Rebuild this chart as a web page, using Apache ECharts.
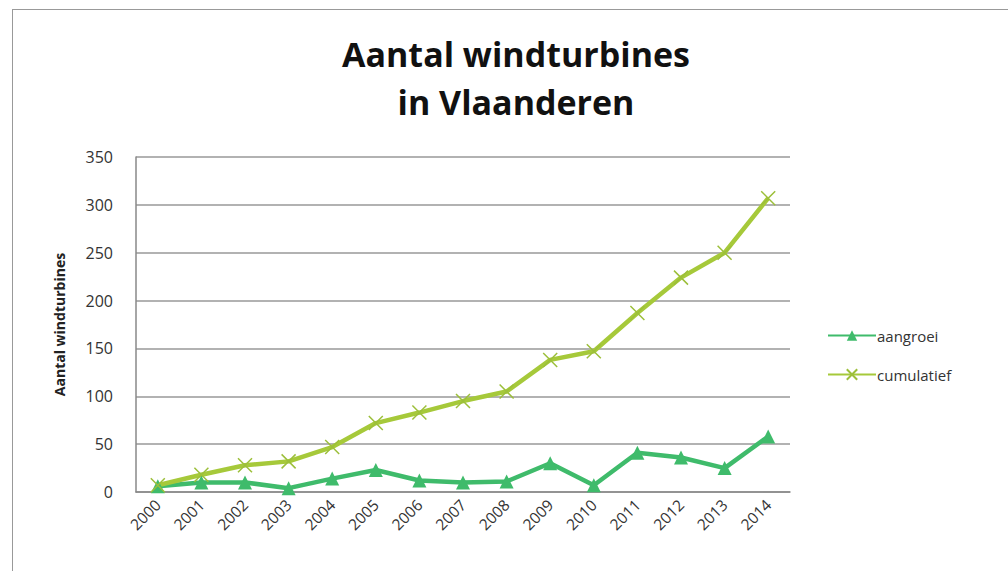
<!DOCTYPE html>
<html>
<head>
<meta charset="utf-8">
<script src="https://cdn.jsdelivr.net/npm/echarts@6/dist/echarts.min.js"></script>
<style>
  html, body { margin: 0; padding: 0; background: #fff; }
  #frame { position: absolute; left: 12px; top: 9px; width: 1000px; height: 570px; border-left: 1px solid #999; border-top: 1px solid #999; }
  #chart { position: absolute; left: 0; top: 0; width: 1008px; height: 571px; }
</style>
</head>
<body>
<div id="frame"></div>
<div id="chart"></div>
<script>
var years = ['2000', '2001', '2002', '2003', '2004', '2005', '2006', '2007', '2008', '2009', '2010', '2011', '2012', '2013', '2014'];
var aangroei = [6, 10, 10, 4, 14, 23, 12, 10, 11, 30, 7, 41, 36, 25, 58];
var cumulatief = [7, 18, 28, 32, 47, 72, 83, 95, 105, 138, 147, 187, 224, 250, 307];

var green = '#3fbb6b';
var lime = '#a6c93a';
var font = 'Open Sans, sans-serif';

var chart = echarts.init(document.getElementById('chart'), null, { renderer: 'svg' });
chart.setOption({
  animation: false,
  title: {
    text: 'Aantal windturbines\nin Vlaanderen',
    left: 511,
    textAlign: 'center',
    top: 25,
    textStyle: { fontFamily: font, fontWeight: 'bold', fontSize: 34, lineHeight: 48, color: '#111' }
  },
  legend: {
    orient: 'vertical',
    left: 822,
    top: 323,
    itemGap: 24,
    itemWidth: 48,
    itemHeight: 13,
    data: ['aangroei', 'cumulatief'],
    textStyle: { fontFamily: font, fontSize: 15, color: '#333', padding: [0, 0, 0, -4] }
  },
  grid: { left: 136, right: 218, top: 157, bottom: 79 },
  xAxis: {
    type: 'category',
    data: years,
    axisLine: { lineStyle: { color: '#888', width: 1.5 } },
    axisTick: { show: false },
    axisLabel: { rotate: 45, fontFamily: font, fontSize: 15.5, color: '#333', margin: 10 }
  },
  yAxis: {
    type: 'value',
    min: 0,
    max: 350,
    interval: 50,
    name: 'Aantal windturbines',
    nameLocation: 'middle',
    nameGap: 70,
    nameTextStyle: { fontFamily: font, fontWeight: 'bold', fontSize: 14, color: '#222' },
    axisLine: { show: true, lineStyle: { color: '#888', width: 1.5 } },
    axisTick: { show: false },
    axisLabel: { fontFamily: font, fontSize: 16, color: '#333', margin: 23 },
    splitLine: { lineStyle: { color: '#999', width: 1.5 } }
  },
  series: [
    {
      name: 'aangroei',
      type: 'line',
      data: aangroei,
      symbol: 'triangle',
      symbolSize: 14,
      lineStyle: { color: green, width: 4.5 },
      itemStyle: { color: green }
    },
    {
      name: 'cumulatief',
      type: 'line',
      data: cumulatief,
      symbol: 'path://M0,0L10,10M10,0L0,10',
      symbolSize: 14,
      lineStyle: { color: lime, width: 4.5 },
      itemStyle: { color: 'rgba(0,0,0,0)', borderColor: '#9cbf3a', borderWidth: 1.5 }
    }
  ]
});
window.addEventListener('resize', function() { chart.resize(); });
</script>
</body>
</html>
